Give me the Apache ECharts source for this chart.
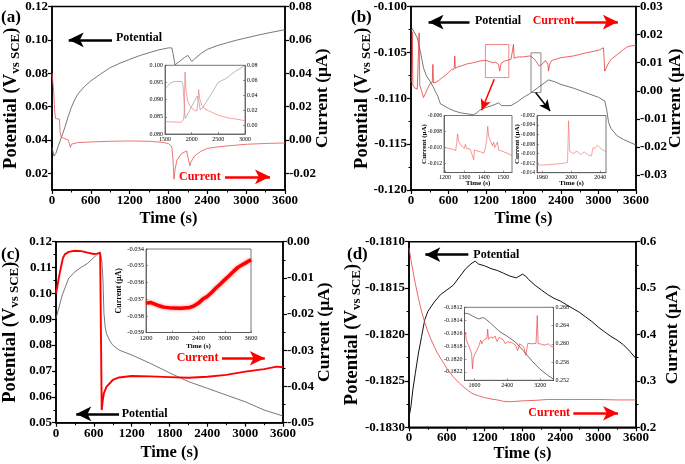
<!DOCTYPE html>
<html><head><meta charset="utf-8">
<script src="https://cdn.jsdelivr.net/npm/echarts@6/dist/echarts.min.js"></script>
<style>html,body{margin:0;padding:0;background:#fff}#c{width:685px;height:464px}</style>
</head><body><div id="c"></div>
<script>
// ---------- DATA ----------
const timeTicks = [0, 600, 1200, 1800, 2400, 3000, 3600];
// (a)
const aPot = [[0,0.0355],[30,0.0303],[60,0.032],[100,0.0368],[150,0.042],[200,0.0477],[250,0.054],[300,0.0596],[350,0.064],[400,0.0675],[500,0.072],[600,0.0754],[750,0.0795],[900,0.0834],[1050,0.086],[1200,0.0883],[1350,0.0905],[1500,0.0923],[1650,0.094],[1800,0.0952],[1850,0.0952],[1870,0.092],[1900,0.085],[1950,0.0865],[2000,0.088],[2050,0.0895],[2100,0.0907],[2130,0.0905],[2160,0.087],[2200,0.0885],[2300,0.0918],[2400,0.0943],[2550,0.0965],[2700,0.0982],[2850,0.0998],[3000,0.1012],[3200,0.103],[3400,0.1046],[3600,0.1061]];
const aCur = [[0,0.040],[10,0.041],[25,0.030],[40,0.018],[55,0.0128],[80,0.0127],[115,0.0125],[125,0.005],[140,0.0018],[180,0.001],[250,0.0],[270,-0.001],[285,-0.0045],[300,-0.0025],[400,-0.0016],[600,-0.0012],[900,-0.0008],[1200,-0.0006],[1500,-0.0008],[1700,-0.0014],[1800,-0.0022],[1850,-0.004],[1870,-0.012],[1885,-0.0235],[1900,-0.018],[1930,-0.012],[2000,-0.0082],[2080,-0.0066],[2110,-0.007],[2130,-0.0155],[2150,-0.013],[2200,-0.0097],[2300,-0.0068],[2400,-0.0051],[2550,-0.0042],[2700,-0.0036],[3000,-0.0026],[3300,-0.0021],[3600,-0.0018]];
const aInPot = [[1500,0.0932],[1550,0.094],[1600,0.0948],[1656,0.0952],[1700,0.0953],[1812,0.0953],[1835,0.0945],[1860,0.089],[1878,0.0845],[1900,0.0848],[1950,0.0865],[2000,0.088],[2050,0.0895],[2106,0.091],[2135,0.0895],[2160,0.0871],[2200,0.0875],[2312,0.0903],[2400,0.0925],[2500,0.0951],[2625,0.096],[2700,0.0968],[2812,0.0982],[2900,0.099],[3000,0.1]];
const aInCur = [[1500,0.0057],[1600,0.005],[1700,0.0048],[1800,0.0045],[1840,0.007],[1860,0.015],[1875,0.071],[1890,0.05],[1920,0.034],[1960,0.027],[2000,0.0235],[2060,0.02],[2100,0.0195],[2115,0.03],[2130,0.048],[2150,0.036],[2190,0.027],[2250,0.022],[2312,0.02],[2400,0.017],[2500,0.0137],[2600,0.0118],[2700,0.0102],[2850,0.0085],[3000,0.0066]];
// (b)
const bPot = [[0,-0.1027],[20,-0.1024],[50,-0.1025],[100,-0.1034],[150,-0.1049],[200,-0.1067],[250,-0.1076],[300,-0.1081],[350,-0.1087],[400,-0.1094],[430,-0.1098],[470,-0.1106],[500,-0.1108],[600,-0.1111],[700,-0.1114],[800,-0.1116],[900,-0.1117],[1000,-0.1118],[1050,-0.1116],[1100,-0.1113],[1200,-0.1110],[1300,-0.1108],[1400,-0.1105],[1450,-0.1108],[1500,-0.1108],[1600,-0.1108],[1700,-0.1104],[1800,-0.1099],[1900,-0.1095],[2000,-0.1090],[2100,-0.1085],[2200,-0.1080],[2300,-0.1082],[2400,-0.1085],[2600,-0.1089],[2800,-0.1094],[3000,-0.1099],[3100,-0.1103],[3130,-0.1112],[3160,-0.1126],[3200,-0.1133],[3300,-0.1141],[3400,-0.1145],[3500,-0.1148],[3600,-0.1151]];
const bCur = [[0,0.0029],[10,0.004],[20,0.021],[30,0.002],[60,0.001],[100,0.0006],[125,0.001],[130,0.0206],[140,0.002],[170,0.0],[200,-0.0024],[230,-0.001],[260,0.0005],[300,0.0024],[340,0.003],[350,0.0094],[360,0.0028],[400,0.003],[450,0.0038],[500,0.0047],[550,0.0055],[600,0.0065],[650,0.0076],[690,0.0078],[700,0.0124],[710,0.008],[750,0.0085],[800,0.0088],[900,0.0096],[1000,0.0100],[1100,0.0106],[1200,0.0108],[1250,0.0105],[1300,0.0100],[1350,0.0102],[1400,0.0094],[1420,0.007],[1440,0.0098],[1500,0.0106],[1600,0.0112],[1630,0.0114],[1640,0.0165],[1650,0.0116],[1700,0.012],[1800,0.0121],[1900,0.0124],[1950,0.0118],[2000,0.0106],[2050,0.0088],[2100,0.0095],[2150,0.0108],[2190,0.0095],[2200,0.007],[2220,0.0095],[2250,0.0108],[2400,0.0118],[2600,0.0124],[2800,0.0135],[3000,0.0144],[3080,0.0153],[3095,0.0150],[3100,0.0070],[3150,0.0094],[3200,0.0112],[3300,0.0129],[3400,0.0147],[3450,0.0155],[3500,0.0159],[3600,0.0162]];
const b1Cur = [[1195,-0.00997],[1220,-0.0101],[1240,-0.0102],[1255,-0.01037],[1260,-0.0095],[1265,-0.00827],[1270,-0.0092],[1285,-0.0098],[1300,-0.0101],[1305,-0.0096],[1312,-0.0101],[1330,-0.0102],[1340,-0.0103],[1348,-0.0115],[1352,-0.0103],[1380,-0.0105],[1400,-0.0107],[1408,-0.0100],[1415,-0.0090],[1420,-0.00734],[1425,-0.0086],[1432,-0.0088],[1445,-0.0098],[1450,-0.0093],[1456,-0.0100],[1465,-0.0102],[1470,-0.0093],[1476,-0.0103],[1490,-0.0104],[1500,-0.01057],[1520,-0.0107],[1530,-0.0108],[1545,-0.011]];
const b2Cur = [[1953,-0.01244],[1970,-0.0123],[1985,-0.0121],[1995,-0.01188],[1996.5,-0.0031],[1998,-0.0095],[2003,-0.00997],[2008,-0.00948],[2013,-0.01019],[2018,-0.00962],[2024,-0.01033],[2028,-0.01047],[2030,-0.00877],[2033,-0.0089],[2036,-0.00821],[2041,-0.00892],[2048,-0.00962]];
// (c)
const cPot = [[0,0.0903],[50,0.0949],[100,0.0994],[150,0.1026],[200,0.1058],[300,0.1084],[400,0.1101],[500,0.1116],[600,0.1139],[700,0.1161],[720,0.1165],[730,0.112],[745,0.1052],[760,0.0923],[780,0.087],[800,0.0845],[850,0.0818],[900,0.080],[1000,0.0781],[1200,0.0762],[1500,0.0729],[1800,0.0693],[2100,0.0659],[2400,0.0633],[2700,0.0607],[3000,0.0581],[3300,0.0549],[3600,0.0526]];
const cCur = [[0,-0.0143],[20,-0.0125],[50,-0.0095],[80,-0.0069],[110,-0.0045],[140,-0.0035],[200,-0.0028],[300,-0.0025],[400,-0.0026],[500,-0.003],[600,-0.0034],[650,-0.0033],[700,-0.0031],[720,-0.0026],[725,-0.0465],[740,-0.044],[760,-0.0418],[800,-0.0401],[900,-0.0382],[1000,-0.0375],[1200,-0.0371],[1500,-0.0372],[1800,-0.0374],[2100,-0.0376],[2400,-0.0373],[2700,-0.0368],[3000,-0.0359],[3300,-0.0352],[3500,-0.0345],[3600,-0.0347]];
const cInCur = [[1200,-0.03724],[1300,-0.0372],[1400,-0.0373],[1500,-0.0374],[1600,-0.03748],[1800,-0.03754],[2000,-0.03755],[2200,-0.0375],[2300,-0.0374],[2400,-0.03724],[2500,-0.0370],[2600,-0.03684],[2700,-0.0366],[2800,-0.03634],[2900,-0.0361],[3000,-0.03584],[3100,-0.0356],[3200,-0.03534],[3300,-0.0351],[3400,-0.03494],[3500,-0.0348],[3600,-0.03464]];
// (d)
const dPot = [[0,-0.18289],[30,-0.18278],[60,-0.1826],[100,-0.18242],[150,-0.1822],[200,-0.18202],[250,-0.18184],[300,-0.18175],[400,-0.18165],[500,-0.18157],[600,-0.18152],[700,-0.18147],[800,-0.18138],[900,-0.18129],[1000,-0.18123],[1050,-0.18121],[1100,-0.18124],[1200,-0.18126],[1300,-0.18129],[1400,-0.18131],[1500,-0.18134],[1600,-0.18137],[1700,-0.18139],[1800,-0.18135],[1850,-0.18137],[1900,-0.18141],[2000,-0.18147],[2100,-0.18152],[2200,-0.18157],[2300,-0.18161],[2400,-0.18164],[2500,-0.18168],[2600,-0.18172],[2700,-0.18176],[2800,-0.18181],[2900,-0.18186],[3000,-0.18192],[3100,-0.18197],[3200,-0.18202],[3300,-0.18206],[3400,-0.18211],[3500,-0.18218],[3600,-0.18226]];
const dCur = [[0,0.586],[50,0.546],[100,0.51],[150,0.478],[200,0.449],[250,0.426],[300,0.406],[350,0.389],[400,0.374],[450,0.36],[500,0.349],[600,0.327],[700,0.309],[800,0.295],[900,0.283],[1000,0.273],[1100,0.268],[1200,0.264],[1300,0.261],[1400,0.259],[1500,0.256],[1600,0.255],[1700,0.256],[1800,0.257],[2000,0.258],[2200,0.26],[2600,0.26],[3000,0.26],[3300,0.259],[3600,0.259]];
const dInPot = [[1356,-0.18129],[1450,-0.1813],[1600,-0.18135],[1700,-0.18138],[1800,-0.18136],[1850,-0.18137],[2000,-0.18145],[2200,-0.18157],[2400,-0.18165],[2600,-0.18174],[2800,-0.18188],[3000,-0.18203],[3200,-0.18216],[3400,-0.18226],[3525,-0.18231]];
const dInCur = [[1356,0.2619],[1380,0.2625],[1400,0.2608],[1450,0.2598],[1500,0.2586],[1530,0.2578],[1550,0.2545],[1570,0.2568],[1600,0.2575],[1650,0.2585],[1700,0.2594],[1750,0.2608],[1780,0.26],[1800,0.2605],[1850,0.261],[1900,0.2612],[1920,0.2632],[1940,0.261],[2000,0.2615],[2050,0.2612],[2100,0.2617],[2150,0.2605],[2200,0.2614],[2300,0.2609],[2350,0.26],[2400,0.2604],[2500,0.2603],[2600,0.2597],[2650,0.2585],[2700,0.26],[2800,0.2593],[2850,0.2575],[2900,0.2601],[3000,0.26],[3100,0.2601],[3130,0.2662],[3150,0.26],[3200,0.26],[3300,0.2597],[3400,0.26],[3450,0.2595],[3525,0.2593]];
// tick labels
const aLeftTicks = [0.02,0.04,0.06,0.08,0.10,0.12];
const aRightTicks = [-0.02,0,0.02,0.04,0.06,0.08];
const bRightTicks = [-0.03,-0.02,-0.01,0,0.01,0.02,0.03];
const aInRightTicks = [0,0.02,0.04,0.06,0.08];
const b1XTicks = [1200,1300,1400,1500];
const b1YTicks = [-0.012,-0.010,-0.008,-0.006];
const b2XTicks = [1960,2000,2040];
const dInXTicks = [1600,2400,3200];
const dInLeftTicks = [-0.1822,-0.1820,-0.1818,-0.1816,-0.1814,-0.1812];

// ---------- CHART ----------
const F = 'Liberation Serif';
const chart = echarts.init(document.getElementById('c'));
function fmt(d){ return v => (Math.abs(v) < 1e-12 ? 0 : v).toFixed(d); }
function grid(l,t,r,b,inset){
  return {left:l, top:t, width:r-l, height:b-t, show:true, containLabel:false,
    borderColor: inset ? '#555' : '#000', borderWidth: inset ? 0.8 : 1.5,
    backgroundColor: inset ? '#fff' : 'transparent'};
}
const grids = [
  grid(52,5,285,190), grid(411,5,638,190), grid(55,241.7,283,422.7), grid(409,241.7,636,427.3),
  grid(165,65.3,245,134,1), grid(444,115.5,512,172.5,1), grid(537,115.5,606,172.7,1),
  grid(146,249,251,332.5,1), grid(464.5,307.3,553.5,380.3,1)
];
const mainLabel = {fontFamily:F, fontWeight:'bold', fontSize:13, color:'#000', margin:4};
function mainX(g, gap){
  return {type:'value', gridIndex:g, min:0, max:3600, interval:600,
    name:'Time (s)', nameLocation:'middle', nameGap:gap, nameMoveOverlap:false,
    nameTextStyle:{fontFamily:F, fontWeight:'bold', fontSize:16.5, color:'#000'},
    axisLine:{show:true, onZero:false, lineStyle:{color:'#000', width:1.5}},
    axisTick:{show:true, length:4, lineStyle:{color:'#000', width:1.2}},
    minorTick:{show:true, splitNumber:2, length:2.5, lineStyle:{color:'#000', width:1}},
    axisLabel:Object.assign({}, mainLabel, {margin:4, formatter:fmt(0)}),
    splitLine:{show:false}, minorSplitLine:{show:false}};
}
const potName = '{m|Potential (V}{s|vs SCE}{m|)}';
const potRich = {m:{fontFamily:F, fontWeight:'bold', fontSize:18.5, lineHeight:21, color:'#000'},
                 s:{fontFamily:F, fontWeight:'bold', fontSize:13, lineHeight:6, verticalAlign:'bottom', color:'#000'}};
function mainY(g, pos, min, max, dec, gap, opt){
  const o = {type:'value', gridIndex:g, position:pos, min, max,
    name: pos === 'left' ? potName : 'Current (μA)', nameLocation:'middle', nameGap:gap, nameRotate:90, nameMoveOverlap:false,
    nameTextStyle: pos === 'left' ? {rich:potRich} : {fontFamily:F, fontWeight:'bold', fontSize:17.5, color:'#000'},
    axisLine:{show:true, onZero:false, lineStyle:{color:'#000', width:1.5}},
    axisTick:{show:true, length:4, lineStyle:{color:'#000', width:1.2}},
    axisLabel:Object.assign({}, mainLabel, {formatter:fmt(dec)}),
    splitLine:{show:false}, minorSplitLine:{show:false}};
  if (opt.interval) { o.interval = opt.interval; o.minorTick = {show:true, splitNumber:2, length:2.5, lineStyle:{color:'#000', width:1}}; }
  if (opt.ticks) { o.axisLabel.customValues = opt.ticks; o.axisTick.customValues = opt.ticks; }
  return o;
}
const inLabel = {fontFamily:F, fontSize:6, color:'#000', margin:2};
function inAxis(isX, g, pos, min, max, dec, opt){
  const o = {type:'value', gridIndex:g, position:pos, min, max,
    axisLine:{show:true, onZero:false, lineStyle:{color:'#555', width:0.8}},
    axisTick:{show:true, inside:true, length:2, lineStyle:{color:'#555', width:0.6}},
    axisLabel:Object.assign({}, inLabel, opt.fs ? {fontSize:opt.fs} : {}, {formatter:fmt(dec)}),
    splitLine:{show:false}};
  if (opt.interval) o.interval = opt.interval;
  if (opt.ticks) { o.axisLabel.customValues = opt.ticks; o.axisTick.customValues = opt.ticks; }
  if (opt.name) {
    o.name = opt.name; o.nameLocation = 'middle'; o.nameGap = opt.gap; o.nameMoveOverlap = false;
    if (!isX) o.nameRotate = 90;
    o.nameTextStyle = {fontFamily:F, fontWeight:'bold', fontSize:opt.nfs || 7, color:'#000'};
  }
  return o;
}
const xAxes = [
  mainX(0,20), mainX(1,20), mainX(2,22), mainX(3,17.5),
  inAxis(true,4,'bottom',1500,3000,0,{interval:500}),
  inAxis(true,5,'bottom',1195,1545,0,{ticks:b1XTicks, name:'Time (s)', gap:7}),
  inAxis(true,6,'bottom',1953,2048,0,{ticks:b2XTicks, name:'Time (s)', gap:7}),
  inAxis(true,7,'bottom',1200,3600,0,{interval:600, fs:6.5, name:'Time (s)', gap:10, nfs:7}),
  inAxis(true,8,'bottom',1356,3525,0,{ticks:dInXTicks})
];
const yAxes = [
  mainY(0,'left',0.01,0.12,2,30,{ticks:aLeftTicks}),
  mainY(0,'right',-0.03,0.08,2,28,{ticks:aRightTicks}),
  mainY(1,'left',-0.12,-0.10,3,38,{interval:0.005}),
  mainY(1,'right',-0.0353,0.03,2,30,{ticks:bRightTicks}),
  mainY(2,'left',0.05,0.12,2,35,{interval:0.01}),
  mainY(2,'right',-0.05,0,2,32,{interval:0.01}),
  mainY(3,'left',-0.183,-0.181,4,46,{interval:0.0005}),
  mainY(3,'right',0.2,0.6,1,27,{interval:0.1}),
  inAxis(false,4,'left',0.08,0.10,3,{interval:0.005}),
  inAxis(false,4,'right',-0.011,0.08,2,{ticks:aInRightTicks}),
  inAxis(false,5,'left',-0.0131,-0.006,3,{ticks:b1YTicks, fs:5.5, name:'Current (μA)', gap:16}),
  inAxis(false,6,'left',-0.014,-0.002,3,{interval:0.002, fs:5.5, name:'Current (μA)', gap:16}),
  inAxis(false,7,'left',-0.039,-0.034,3,{interval:0.001, fs:6.5, name:'Current (μA)', gap:23, nfs:8}),
  inAxis(false,8,'left',-0.18233,-0.1812,4,{ticks:dInLeftTicks}),
  inAxis(false,8,'right',0.252,0.268,3,{interval:0.004})
];
function arrows(color, width, size, pairs){
  return {silent:true, animation:false, symbol:['none','arrow'], symbolSize:size, label:{show:false},
    emphasis:{disabled:true}, lineStyle:{type:'solid', color, width},
    data: pairs.map(p => [{coord:[p[0],p[1]]},{coord:[p[2],p[3]]}])};
}
function line(xi, yi, data, color, width, extra){
  return Object.assign({type:'line', xAxisIndex:xi, yAxisIndex:yi, data, showSymbol:false, symbol:'none',
    lineStyle:{color, width}, animation:false, silent:true, z:3}, extra || {});
}
const series = [
  line(0,0,aPot,'#555',0.8,{markLine:arrows('#000',2.5,[11,15],[[927,0.1,258,0.1]])}),
  line(0,1,aCur,'#ea5050',0.8,{markLine:arrows('#f00',2.5,[11,15],[[2673,-0.0221,3368,-0.0221]])}),
  line(1,2,bPot,'#555',0.8,{
    markLine:arrows('#000',2.5,[11,15],[[936,-0.1017,281,-0.1017]]),
    markArea:{silent:true, data:[
      [{xAxis:1190,yAxis:-0.10414,itemStyle:{color:'rgba(0,0,0,0)',borderColor:'#e88',borderWidth:1}},{xAxis:1565,yAxis:-0.10775}],
      [{xAxis:1920,yAxis:-0.10505,itemStyle:{color:'rgba(0,0,0,0)',borderColor:'#888',borderWidth:1}},{xAxis:2079,yAxis:-0.10937}]
    ]}}),
  line(1,3,bCur,'#e83a3a',0.8,{markLine:arrows('#f00',2.5,[11,15],[[2628,0.02446,3310,0.02446]])}),
  line(1,2,[], '#000', 0, {markLine:{silent:true, animation:false, symbol:['none','arrow'], symbolSize:[8,11], label:{show:false},
    data:[[{coord:[1332,-0.10792],lineStyle:{color:'#f00',width:1.5,type:'solid'}},{coord:[1130,-0.1113]}],
          [{coord:[1994,-0.10937],lineStyle:{color:'#000',width:1.5,type:'solid'}},{coord:[2226,-0.11138]}]]}}),
  line(2,4,cPot,'#555',0.8,{markLine:arrows('#000',2.5,[11,15],[[1000,0.0534,321,0.0534]])}),
  line(2,5,cCur,'#ff0000',1.9,{markLine:arrows('#f00',2.5,[11,15],[[2632,-0.0322,3311,-0.0322]])}),
  line(3,6,dPot,'#111',1,{markLine:arrows('#000',2.5,[11,15],[[941,-0.18114,259,-0.18114]])}),
  line(3,7,dCur,'#e84040',0.8,{markLine:arrows('#f00',2.5,[11,15],[[2606,0.2302,3315,0.2302]])}),
  line(4,8,aInPot,'#888',0.6,{z:10}),
  line(4,9,aInCur,'#f07a7a',0.7,{z:10}),
  line(5,10,b1Cur,'#e85555',0.6,{z:10}),
  line(6,11,b2Cur,'#ec6a6a',0.6,{z:10}),
  line(7,12,cInCur,'#ff0000',3.5,{z:10, lineStyle:{color:'#ff0000',width:3.5,shadowBlur:3,shadowColor:'rgba(255,60,60,0.7)'}}),
  line(8,13,dInPot,'#333',0.7,{z:10}),
  line(8,14,dInCur,'#e84444',0.7,{z:10})
];
function txt(x, y, s, color, size){
  return {type:'text', x, y, z:100, silent:true,
    style:{text:s, fill:color, font:'bold ' + size + 'px "Liberation Serif"', textAlign:'left', textVerticalAlign:'middle'}};
}
const graphic = [
  txt(1,18,'(a)','#000',17), txt(351,18,'(b)','#000',17), txt(1,255,'(c)','#000',17), txt(347,255,'(d)','#000',17),
  txt(116,37.7,'Potential','#000',12), txt(179,176.7,'Current','#f00',12),
  txt(475,20.7,'Potential','#000',12), txt(532.7,20.7,'Current','#f00',12),
  txt(176.7,358.3,'Current','#f00',12), txt(121.7,414,'Potential','#000',12),
  txt(473.3,254.7,'Potential','#000',12), txt(528.3,413.3,'Current','#f00',12)
];
chart.setOption({animation:false, backgroundColor:'#fff', grid:grids, xAxis:xAxes, yAxis:yAxes, series, graphic});
</script></body></html>
